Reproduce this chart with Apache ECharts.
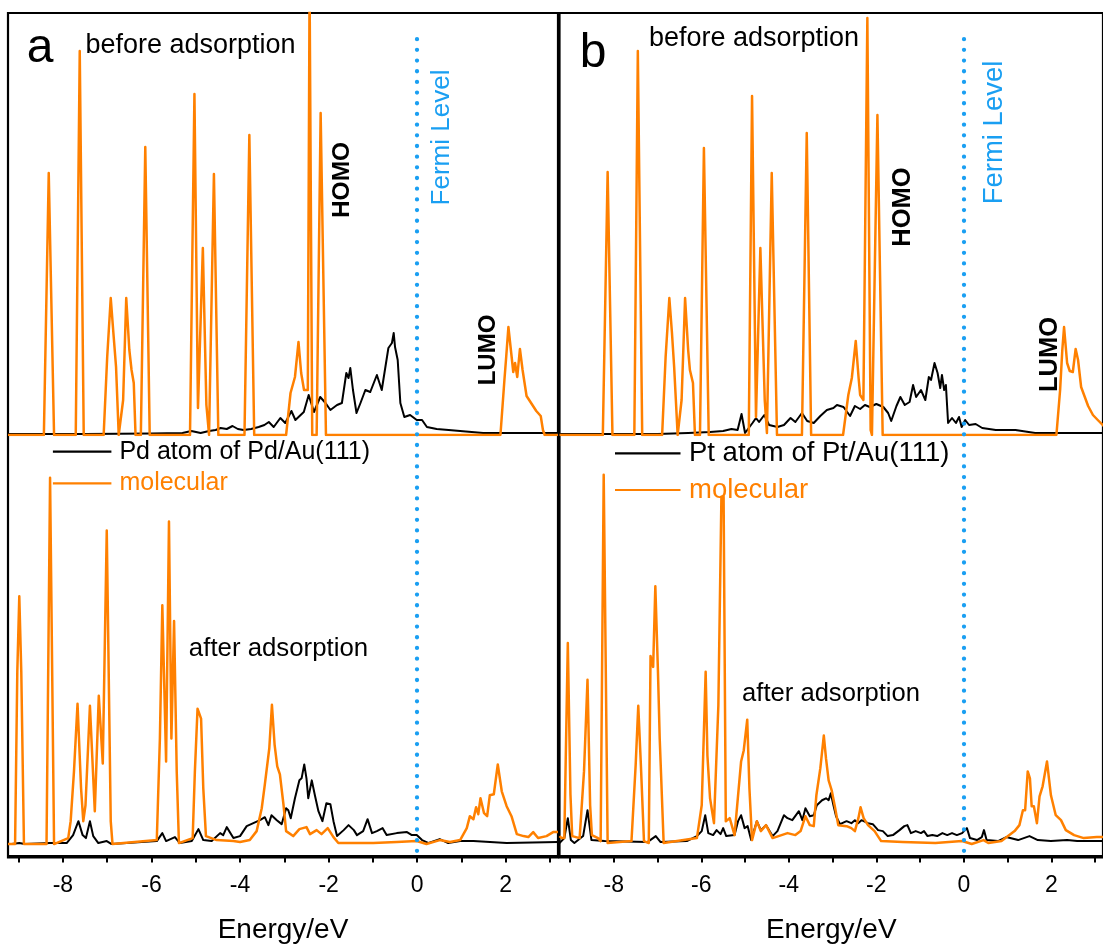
<!DOCTYPE html>
<html><head><meta charset="utf-8">
<script src="https://cdn.jsdelivr.net/npm/echarts@6/dist/echarts.min.js"></script>
<style>html,body{margin:0;padding:0;background:#fff}#c{width:1103px;height:945px}</style>
</head><body><div id="c"></div>
<script>
// ---- axis / tick data ----
const tickValues = [-9,-8,-7,-6,-5,-4,-3,-2,-1,0,1,2,3];
const labelValues = [-8,-6,-4,-2,0,2];
const fermiLevel = 0;

// ---- panel a : before adsorption ----
const aBeforeMetal = [[-9.24,0.1],[-7.5,0.1],[-6.0,0.15],[-5.3,0.2],[-5.1,0.4],[-4.89,0.2],[-4.70,0.4],[-4.55,0.5],[-4.44,0.7],[-4.30,0.6],[-4.17,0.9],[-4.05,0.6],[-3.92,0.5],[-3.75,0.6],[-3.58,0.8],[-3.45,1.0],[-3.35,1.3],[-3.24,0.8],[-3.09,1.7],[-2.98,1.2],[-2.84,2.4],[-2.75,1.5],[-2.56,2.3],[-2.45,4.0],[-2.33,2.3],[-2.19,3.8],[-2.07,3.2],[-1.96,2.5],[-1.81,3.0],[-1.70,3.2],[-1.60,6.2],[-1.55,5.7],[-1.51,6.7],[-1.45,4.5],[-1.37,2.2],[-1.28,3.2],[-1.17,4.5],[-1.06,4.3],[-0.91,6.0],[-0.80,4.5],[-0.65,8.7],[-0.57,9.2],[-0.53,10.2],[-0.50,8.8],[-0.44,7.5],[-0.38,3.2],[-0.29,1.8],[-0.16,2.0],[-0.01,1.5],[0.11,1.5],[0.22,0.8],[0.44,0.6],[0.71,0.5],[0.97,0.4],[1.49,0.2],[3.18,0.2]];
const aBeforeMol = [[-9.24,0],[-8.43,0],[-8.32,26.2],[-8.20,0],[-7.71,0],[-7.62,38.4],[-7.53,0],[-7.08,0],[-7.00,7.8],[-6.92,13.7],[-6.86,10.2],[-6.80,6.8],[-6.74,0],[-6.64,3.5],[-6.57,13.7],[-6.50,8.5],[-6.45,6.5],[-6.40,5.2],[-6.36,0],[-6.24,0],[-6.14,28.8],[-6.04,0],[-5.13,0],[-5.03,34.1],[-4.95,2.7],[-4.84,18.7],[-4.76,3.0],[-4.70,0],[-4.59,26.1],[-4.49,0],[-3.90,0],[-3.79,30.0],[-3.68,0],[-2.96,0],[-2.86,4.2],[-2.76,5.8],[-2.68,9.3],[-2.62,6.2],[-2.555,4.5],[-2.51,4.3],[-2.47,4.5],[-2.43,45],[-2.37,0],[-2.27,0],[-2.18,32.2],[-2.06,0],[1.88,0],[1.91,0.2],[1.97,5.5],[2.01,7.8],[2.06,10.8],[2.17,6.3],[2.21,7.2],[2.26,5.8],[2.32,8.6],[2.38,6.5],[2.47,3.9],[2.69,2.4],[2.79,1.9],[2.84,0.5],[2.88,0],[3.18,0]];

// ---- panel a : after adsorption ----
const aAfterMetal = [[-9.24,0],[-9.16,0],[-8.985,0.1],[-8.86,0],[-8.29,0.1],[-7.915,0.1],[-7.77,0.9],[-7.65,2.3],[-7.555,0.9],[-7.48,0.6],[-7.39,2.3],[-7.315,0.8],[-7.20,0.1],[-7.01,0.3],[-6.90,0],[-5.88,0.3],[-5.755,1.1],[-5.67,0.3],[-5.47,0.7],[-5.36,0.1],[-5.09,0.3],[-4.94,1.5],[-4.83,0.4],[-4.64,0.3],[-4.45,1.1],[-4.38,0.9],[-4.30,1.7],[-4.15,0.6],[-4.00,0.8],[-3.85,1.8],[-3.70,2.1],[-3.55,2.4],[-3.44,2.7],[-3.36,1.9],[-3.29,2.9],[-3.17,2.4],[-3.06,2.0],[-2.96,3.6],[-2.91,3.4],[-2.855,2.6],[-2.76,4.6],[-2.66,6.4],[-2.61,6.6],[-2.55,8.0],[-2.50,6.6],[-2.46,4.6],[-2.38,6.4],[-2.31,4.9],[-2.23,3.3],[-2.14,2.3],[-2.05,4.1],[-1.96,4.0],[-1.89,2.3],[-1.81,0.8],[-1.66,1.4],[-1.55,1.9],[-1.43,1.4],[-1.36,0.9],[-1.22,1.3],[-1.12,2.5],[-1.02,1.1],[-0.91,1.3],[-0.78,1.6],[-0.69,0.9],[-0.46,1.1],[-0.23,1.2],[-0.12,0.9],[-0.01,0.9],[0.11,0.4],[0.26,0.1],[0.51,0.5],[0.70,0.1],[0.97,0.3],[1.27,0.3],[2.02,0.1],[3.18,0.2]];
const aAfterMol = [[-9.24,0],[-9.08,0],[-9.03,17.3],[-8.985,24.9],[-8.94,17.3],[-8.88,0],[-8.37,0],[-8.29,36.8],[-8.20,0],[-7.88,0.6],[-7.825,2.3],[-7.75,7.3],[-7.67,14.1],[-7.59,5.6],[-7.54,2.3],[-7.49,3.9],[-7.39,13.9],[-7.28,3.3],[-7.19,14.9],[-7.10,8.1],[-7.01,31.5],[-6.92,2.3],[-6.88,0],[-5.88,0.4],[-5.81,10.6],[-5.755,24.0],[-5.67,8.3],[-5.605,32.4],[-5.55,10.6],[-5.49,22.4],[-5.43,7.3],[-5.38,0.1],[-5.07,0.6],[-5.02,7.3],[-4.96,13.6],[-4.88,12.6],[-4.83,5.6],[-4.77,0.8],[-4.53,0.4],[-4.15,0.3],[-4.00,0.2],[-3.78,0.4],[-3.625,1.3],[-3.51,3.6],[-3.44,6.0],[-3.34,9.6],[-3.28,14.0],[-3.22,10.0],[-3.16,7.8],[-3.10,7.0],[-3.02,4.0],[-2.96,1.3],[-2.80,0.8],[-2.66,1.5],[-2.50,1.7],[-2.42,1.0],[-2.27,1.4],[-2.16,1.0],[-2.02,1.6],[-1.89,0.7],[-1.78,0.1],[-0.99,0.1],[-0.46,0.2],[-0.01,0.3],[0.21,0.0],[0.51,0.4],[0.74,0.2],[0.97,0.4],[1.12,1.6],[1.19,2.8],[1.27,2.5],[1.33,3.7],[1.38,3.0],[1.43,4.6],[1.51,3.1],[1.58,2.8],[1.64,4.9],[1.73,5.0],[1.82,8.0],[1.91,5.3],[2.02,3.8],[2.13,2.8],[2.25,1.0],[2.40,0.8],[2.51,0.7],[2.62,1.2],[2.73,0.6],[2.92,0.8],[3.07,1.2],[3.18,1.2]];

// ---- panel b : before adsorption ----
const bBeforeMetal = [[-9.24,0.1],[-7.0,0.1],[-6.3,0.2],[-5.8,0.3],[-5.5,0.4],[-5.31,0.6],[-5.17,0.5],[-5.08,2.1],[-5.00,0.2],[-4.83,1.2],[-4.75,1.7],[-4.68,1.3],[-4.56,2.0],[-4.45,1.0],[-4.26,0.8],[-4.11,1.0],[-3.96,1.7],[-3.85,1.3],[-3.70,2.2],[-3.58,1.4],[-3.43,1.2],[-3.28,1.9],[-3.13,2.5],[-2.98,2.7],[-2.90,3.0],[-2.75,2.8],[-2.60,1.9],[-2.49,2.9],[-2.37,2.6],[-2.26,3.0],[-2.15,2.8],[-2.00,3.1],[-1.84,2.8],[-1.73,2.2],[-1.66,1.4],[-1.54,2.9],[-1.45,3.8],[-1.35,3.0],[-1.24,3.3],[-1.16,5.0],[-1.09,3.8],[-0.98,4.5],[-0.88,3.5],[-0.80,5.8],[-0.75,5.5],[-0.67,7.2],[-0.60,6.2],[-0.54,4.7],[-0.50,6.0],[-0.45,4.5],[-0.41,5.0],[-0.36,1.2],[-0.27,1.7],[-0.18,1.2],[-0.11,1.8],[-0.05,0.8],[0.03,1.5],[0.12,1.0],[0.27,1.1],[0.42,0.7],[0.73,0.5],[1.18,0.5],[1.63,0.2],[2.38,0.2],[3.22,0.2]];
const bBeforeMol = [[-9.24,0],[-8.25,0],[-8.14,26.3],[-8.03,0],[-7.53,0],[-7.45,38.4],[-7.35,0],[-6.895,0],[-6.815,7.8],[-6.73,13.7],[-6.67,10.2],[-6.62,6.8],[-6.54,0],[-6.45,3.5],[-6.37,13.7],[-6.30,8.5],[-6.26,6.5],[-6.19,5.2],[-6.145,0],[-6.03,0],[-5.94,28.7],[-5.83,0],[-4.915,0],[-4.84,33.9],[-4.75,1.8],[-4.65,18.7],[-4.55,3.5],[-4.50,0.2],[-4.39,26.2],[-4.27,0],[-3.70,0],[-3.59,30.2],[-3.49,0],[-2.76,0],[-2.64,4.0],[-2.56,5.7],[-2.47,9.4],[-2.405,5.7],[-2.37,4.0],[-2.295,3.5],[-2.205,41.7],[-2.13,0.5],[-2.10,0],[-2.055,0],[-1.975,32.0],[-1.855,0],[2.115,0],[2.20,4.5],[2.25,8.5],[2.29,10.8],[2.36,7.2],[2.42,6.4],[2.49,6.3],[2.555,8.6],[2.61,7.5],[2.68,4.8],[2.84,2.9],[2.95,2.0],[3.06,1.5],[3.22,0.8]];

// ---- panel b : after adsorption ----
const bAfterMetal = [[-9.24,0.1],[-9.13,0.6],[-9.05,2.6],[-8.98,0.4],[-8.90,0.1],[-8.70,0.8],[-8.60,3.4],[-8.51,0.4],[-8.21,0.3],[-7.23,0.2],[-7.04,0.8],[-6.93,0.2],[-6.33,0.3],[-6.10,0.8],[-5.99,1.3],[-5.91,2.9],[-5.84,1.1],[-5.73,0.9],[-5.65,1.4],[-5.56,1.0],[-5.50,1.6],[-5.43,0.8],[-5.24,0.9],[-5.16,2.3],[-5.09,2.9],[-5.01,1.6],[-4.94,1.8],[-4.86,0.4],[-4.73,2.3],[-4.64,1.4],[-4.52,1.9],[-4.37,0.8],[-4.26,1.3],[-4.11,2.9],[-4.03,2.6],[-3.92,2.4],[-3.77,3.3],[-3.69,2.4],[-3.62,3.6],[-3.52,2.8],[-3.43,2.9],[-3.36,3.9],[-3.24,4.4],[-3.15,4.6],[-3.09,4.4],[-3.04,5.1],[-2.98,3.9],[-2.92,2.8],[-2.83,2.0],[-2.68,2.3],[-2.57,2.1],[-2.49,2.4],[-2.41,2.1],[-2.34,2.4],[-2.19,2.1],[-2.08,2.0],[-1.96,1.4],[-1.85,1.3],[-1.74,0.8],[-1.62,0.9],[-1.47,1.4],[-1.36,1.8],[-1.29,1.9],[-1.21,1.1],[-1.10,1.3],[-0.98,1.1],[-0.91,1.3],[-0.83,0.8],[-0.72,0.9],[-0.61,0.8],[-0.49,1.1],[-0.38,0.9],[-0.27,1.1],[-0.16,0.9],[-0.04,1.1],[0.07,1.6],[0.14,0.6],[0.30,0.4],[0.41,0.7],[0.46,1.4],[0.52,0.4],[0.78,0.3],[0.97,0.7],[1.24,0.4],[1.50,0.8],[1.69,0.4],[1.99,0.3],[2.36,0.4],[2.59,0.3],[3.04,0.3],[3.22,0.3]];
const bAfterMol = [[-9.24,0.8],[-9.19,0.6],[-9.13,0.6],[-9.05,20.2],[-8.99,5.0],[-8.95,0.8],[-8.78,0.6],[-8.68,7.3],[-8.60,16.5],[-8.54,3.9],[-8.50,0.9],[-8.36,0.6],[-8.30,0.3],[-8.23,37.1],[-8.14,0.1],[-7.595,0.3],[-7.50,7.9],[-7.44,13.9],[-7.38,7.9],[-7.31,0.3],[-7.20,0.1],[-7.16,18.9],[-7.10,17.8],[-7.05,25.9],[-6.99,17.3],[-6.95,10.6],[-6.86,0.1],[-6.10,0.6],[-5.99,3.9],[-5.90,17.3],[-5.86,8.9],[-5.80,4.6],[-5.71,2.1],[-5.61,13.9],[-5.54,34.9],[-5.49,34.9],[-5.44,2.3],[-5.35,2.6],[-5.24,0.9],[-5.09,8.3],[-5.03,9.4],[-4.95,12.5],[-4.90,5.6],[-4.84,0.4],[-4.73,2.3],[-4.64,1.3],[-4.52,1.9],[-4.37,0.6],[-4.03,1.1],[-3.85,0.9],[-3.73,1.3],[-3.62,2.8],[-3.52,1.9],[-3.43,1.8],[-3.37,4.9],[-3.28,7.6],[-3.20,10.9],[-3.15,8.6],[-3.09,6.4],[-3.02,5.4],[-2.94,3.6],[-2.87,1.9],[-2.68,1.8],[-2.57,1.6],[-2.49,1.3],[-2.41,2.6],[-2.36,3.7],[-2.29,2.6],[-2.19,1.9],[-2.04,1.3],[-1.89,0.3],[-1.40,0.2],[-0.65,0.1],[-0.04,0.3],[0.18,0.0],[0.45,0.4],[0.56,0.1],[0.86,0.3],[1.16,1.3],[1.27,1.9],[1.35,3.4],[1.40,3.4],[1.46,7.3],[1.51,6.6],[1.55,3.8],[1.60,3.8],[1.67,2.1],[1.73,4.8],[1.80,5.8],[1.90,8.3],[1.99,4.9],[2.10,2.9],[2.22,2.4],[2.33,1.4],[2.52,0.9],[2.74,0.6],[3.04,0.7],[3.22,0.7]];

const ORANGE = '#ff8000';
const BLUE = '#1a9ff2';
const FONT = 'Liberation Sans, Arial, sans-serif';
const eMin = -9.24, eMax = 3.18;

const chart = echarts.init(document.getElementById('c'), null, {renderer: 'canvas'});

function hiddenX(gi) {
  return {type: 'value', gridIndex: gi, min: eMin, max: eMax, show: false};
}
function bottomX(gi) {
  return {
    type: 'value', gridIndex: gi, min: eMin, max: eMax,
    axisLine: {show: true, onZero: false, lineStyle: {color: '#000', width: 2}},
    axisTick: {show: true, inside: false, length: 7, customValues: tickValues, lineStyle: {color: '#000', width: 2}},
    axisLabel: {show: true, customValues: labelValues, fontSize: 23, color: '#000', margin: 18.5, fontFamily: FONT},
    splitLine: {show: false},
    name: 'Energy/eV', nameLocation: 'middle', nameGap: 60.5,
    nameTextStyle: {fontSize: 28, color: '#000', fontFamily: FONT}
  };
}
function yAx(gi, min, max) {
  return {type: 'value', gridIndex: gi, min: min, max: max, show: false};
}
function line(name, data, idx, color, width, z) {
  return {
    type: 'line', name: name, data: data, xAxisIndex: idx, yAxisIndex: idx,
    showSymbol: false, symbol: 'none', clip: true, silent: true, z: z,
    lineStyle: {color: color, width: width, join: 'round'}, itemStyle: {color: color}
  };
}
function fermi(idx) {
  return {
    type: 'line', data: [], xAxisIndex: idx, yAxisIndex: idx, silent: true,
    markLine: {
      silent: true, symbol: ['none', 'none'], label: {show: false},
      lineStyle: {color: BLUE, width: 4.3, type: [0.01, 10.67], cap: 'round'},
      data: [[{coord: [fermiLevel, 0.969]}, {coord: [fermiLevel, 0.0]}]]
    }
  };
}
function txt(text, x, y, size, color, opts) {
  opts = opts || {};
  return {
    type: 'text', x: x, y: y, rotation: opts.rot || 0, silent: true, z: 100,
    style: {
      text: text, x: 0, y: 0, fill: color, fontSize: size, fontFamily: FONT,
      fontWeight: opts.bold ? 'bold' : 'normal',
      textAlign: 'center', textVerticalAlign: 'middle', verticalAlign: 'middle'
    }
  };
}

const R = Math.PI / 2;
const option = {
  animation: false,
  backgroundColor: '#fff',
  textStyle: {fontFamily: FONT},
  grid: [
    {left: 8, width: 550, top: 13, height: 422},
    {left: 8, width: 550, top: 435, height: 422.5},
    {left: 559.5, width: 550, top: 13, height: 422},
    {left: 559.5, width: 550, top: 435, height: 422.5},
    {left: 8, width: 550, top: 13, height: 844.5, show: true, borderColor: '#000', borderWidth: 2.2, backgroundColor: 'transparent'},
    {left: 559.5, width: 550, top: 13, height: 844.5, show: true, borderColor: '#000', borderWidth: 2.2, backgroundColor: 'transparent'}
  ],
  xAxis: [hiddenX(0), bottomX(1), hiddenX(2), bottomX(3), hiddenX(4), hiddenX(5)],
  yAxis: [yAx(0, 0, 42.2), yAx(1, -1.15, 41.1), yAx(2, 0, 42.2), yAx(3, -1.15, 41.1), yAx(4, 0, 1), yAx(5, 0, 1)],
  legend: [
    {
      left: 52.9, top: 437.7, orient: 'vertical', padding: 0, itemGap: 3.6,
      itemWidth: 58.5, itemHeight: 2.2, icon: 'rect', selectedMode: false,
      textStyle: {fontSize: 25, lineHeight: 28, color: '#000', fontFamily: FONT, padding: [0, 0, 0, 3]},
      data: [
        {name: 'Pd atom of Pd/Au(111)', textStyle: {color: '#000'}},
        {name: 'molecular', textStyle: {color: ORANGE}}
      ]
    },
    {
      left: 615, top: 437.8, orient: 'vertical', padding: 0, itemGap: 5.7,
      itemWidth: 65.5, itemHeight: 2.2, icon: 'rect', selectedMode: false,
      textStyle: {fontSize: 27.5, lineHeight: 31, color: '#000', fontFamily: FONT, padding: [0, 0, 0, 3.5]},
      data: [
        {name: 'Pt atom of Pt/Au(111)', textStyle: {color: '#000'}},
        {name: 'molecular', textStyle: {color: ORANGE}}
      ]
    }
  ],
  series: [
    line('Pd atom of Pd/Au(111)', aBeforeMetal, 0, '#000', 2.0, 2),
    line('molecular', aBeforeMol, 0, ORANGE, 2.5, 3),
    line('Pd atom of Pd/Au(111)', aAfterMetal, 1, '#000', 2.0, 2),
    line('molecular', aAfterMol, 1, ORANGE, 2.5, 3),
    line('Pt atom of Pt/Au(111)', bBeforeMetal, 2, '#000', 2.0, 2),
    line('molecular', bBeforeMol, 2, ORANGE, 2.5, 3),
    line('Pt atom of Pt/Au(111)', bAfterMetal, 3, '#000', 2.0, 2),
    line('molecular', bAfterMol, 3, ORANGE, 2.5, 3),
    fermi(4),
    fermi(5)
  ],
  graphic: [
    txt('a', 40, 48.4, 48, '#000'),
    txt('b', 593, 53.4, 48, '#000'),
    txt('before adsorption', 190.5, 45.3, 27, '#000'),
    txt('before adsorption', 754, 38.2, 27, '#000'),
    txt('after adsorption', 278.5, 648.8, 25.8, '#000'),
    txt('after adsorption', 831, 693.5, 25.6, '#000'),
    txt('HOMO', 342, 180, 24.5, '#000', {rot: R, bold: true}),
    txt('HOMO', 903.3, 207, 25.5, '#000', {rot: R, bold: true}),
    txt('LUMO', 488.4, 350, 24, '#000', {rot: R, bold: true}),
    txt('LUMO', 1049.7, 354.5, 25.5, '#000', {rot: R, bold: true}),
    txt('Fermi Level', 441.5, 137.5, 26, BLUE, {rot: R}),
    txt('Fermi Level', 994, 132.5, 27.5, BLUE, {rot: R})
  ]
};
chart.setOption(option);
</script>
</body></html>
